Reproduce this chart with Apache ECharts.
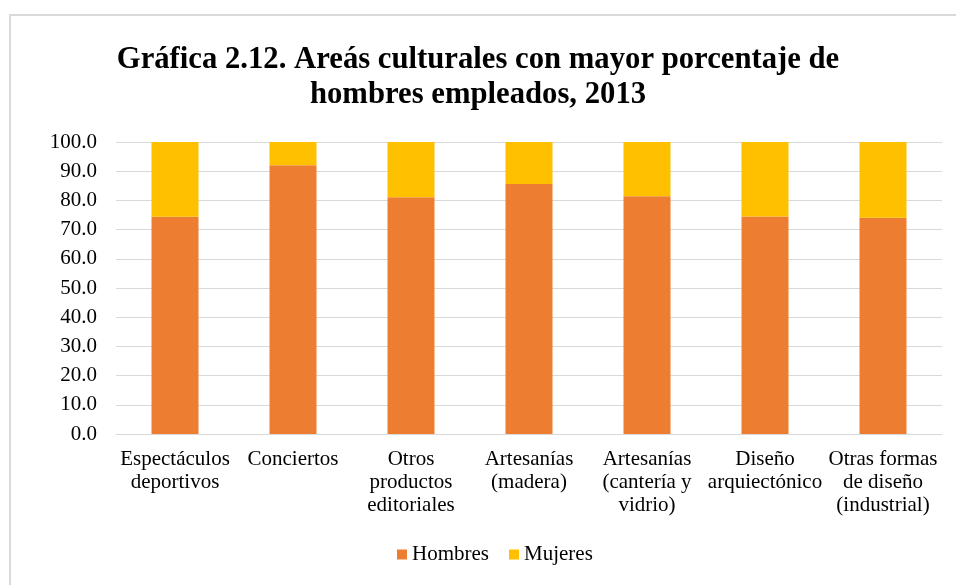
<!DOCTYPE html>
<html>
<head>
<meta charset="utf-8">
<script src="https://cdn.jsdelivr.net/npm/echarts@6/dist/echarts.min.js"></script>
<style>
  html, body { margin: 0; padding: 0; background: #fff; }
  #chart { width: 956px; height: 585px; }
</style>
</head>
<body>
<div id="chart"></div>
<script>
// Areas culturales y participación por sexo (porcentaje), 2013
const categories = [
  'Espectáculos\ndeportivos',
  'Conciertos',
  'Otros\nproductos\neditoriales',
  'Artesanías\n(madera)',
  'Artesanías\n(cantería y\nvidrio)',
  'Diseño\narquiectónico',
  'Otras formas\nde diseño\n(industrial)'
];
const hombres = [74.4, 92.0, 81.1, 85.6, 81.4, 74.5, 74.1];
const mujeres = [25.6, 8.0, 18.9, 14.4, 18.6, 25.5, 25.9];
const yTicks = { min: 0, max: 100, interval: 10 };

const serif = '"Liberation Serif", "Times New Roman", serif';
const chart = echarts.init(document.getElementById('chart'));
chart.setOption({
  animation: false,
  backgroundColor: '#ffffff',
  graphic: [{
    type: 'rect',
    shape: { x: 10, y: 15, width: 1000, height: 1000 },
    style: { fill: 'none', stroke: '#d9d9d9', lineWidth: 2 },
    silent: true
  }],
  title: {
    text: 'Gráfica 2.12. Areás culturales con mayor porcentaje de\nhombres empleados, 2013',
    left: 'center',
    top: 38,
    textStyle: {
      fontFamily: serif,
      fontWeight: 'bold',
      fontSize: 30.7,
      lineHeight: 35,
      color: '#000'
    }
  },
  grid: { left: 116, right: 14, top: 142, bottom: 151, containLabel: false },
  legend: {
    top: 539,
    left: 392,
    itemWidth: 10,
    itemHeight: 10,
    itemGap: 20,
    icon: 'rect',
    textStyle: { fontFamily: serif, fontSize: 21, color: '#000' },
    data: ['Hombres', 'Mujeres']
  },
  xAxis: {
    type: 'category',
    data: categories,
    axisLine: { show: true, lineStyle: { color: '#d9d9d9', width: 1 } },
    axisTick: { show: false },
    axisLabel: {
      fontFamily: serif,
      fontSize: 21,
      lineHeight: 23,
      color: '#000',
      margin: 14,
      interval: 0
    }
  },
  yAxis: {
    type: 'value',
    min: yTicks.min,
    max: yTicks.max,
    interval: yTicks.interval,
    axisLine: { show: false },
    axisTick: { show: false },
    splitLine: { lineStyle: { color: '#d9d9d9', width: 1 } },
    axisLabel: {
      fontFamily: serif,
      fontSize: 21,
      color: '#000',
      margin: 19,
      formatter: v => v.toFixed(1)
    }
  },
  series: [
    {
      name: 'Hombres',
      type: 'bar',
      stack: 'total',
      barWidth: 47,
      data: hombres,
      itemStyle: { color: '#ed7d31' }
    },
    {
      name: 'Mujeres',
      type: 'bar',
      stack: 'total',
      barWidth: 47,
      data: mujeres,
      itemStyle: { color: '#ffc000' }
    }
  ]
});
</script>
</body>
</html>
